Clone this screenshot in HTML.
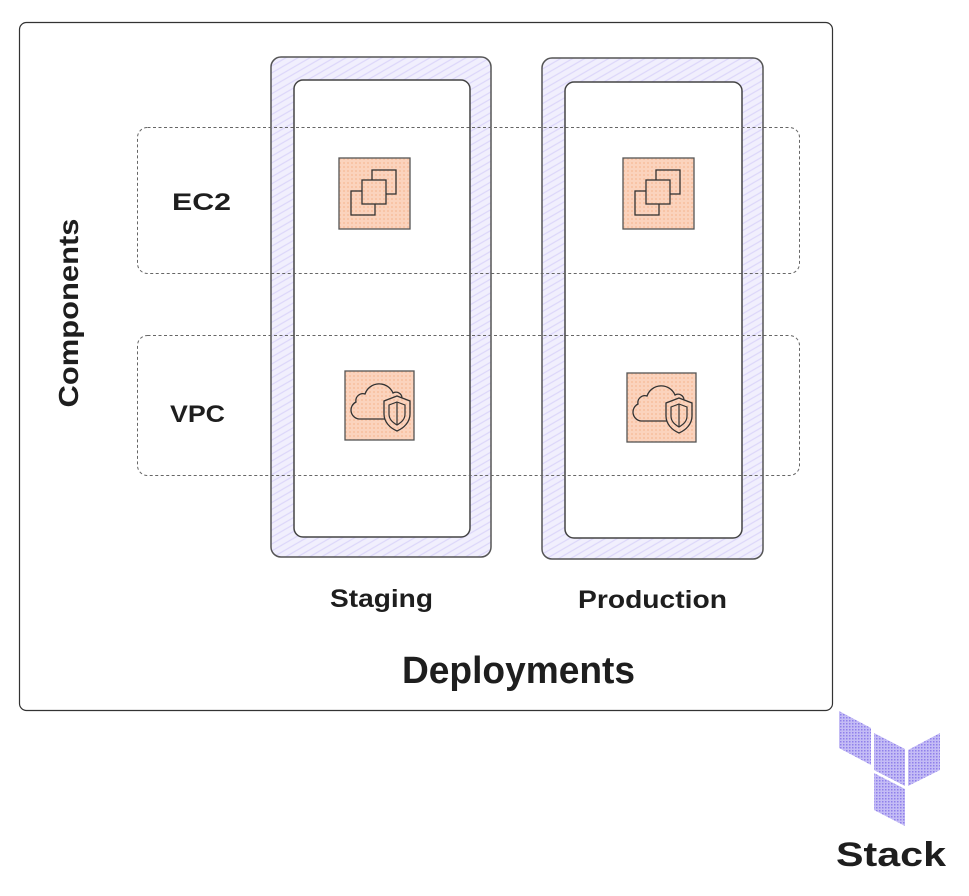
<!DOCTYPE html>
<html><head><meta charset="utf-8"><style>
html,body{margin:0;padding:0;background:#fff;}
svg{display:block;}
text{font-family:"Comic Sans MS","Liberation Sans",sans-serif;fill:#1e1e1e;font-weight:bold;}
</style></head><body>
<svg width="969" height="896" viewBox="0 0 969 896" xmlns="http://www.w3.org/2000/svg">
<defs>
<pattern id="hatch" width="6" height="6" patternUnits="userSpaceOnUse" patternTransform="rotate(-30)">
<rect width="6" height="6" fill="#f1effd"/>
<line x1="0" y1="1" x2="6" y2="1" stroke="#dcd6fa" stroke-width="1.2"/>
</pattern>
<pattern id="orange" width="4" height="4" patternUnits="userSpaceOnUse">
<rect width="4" height="4" fill="#fbd3bd"/>
<rect width="2" height="2" fill="#f8c4a6"/>
</pattern>
<pattern id="tf" width="3" height="3" patternUnits="userSpaceOnUse">
<rect width="3" height="3" fill="#c4bcf5"/>
<rect width="1.5" height="1.5" fill="#8f80ea"/>
</pattern>
<g id="ec2">
<rect x="0" y="0" width="71" height="71" fill="url(#orange)" stroke="#555" stroke-width="1.3"/>
<rect x="33" y="12" width="24" height="24" fill="none" stroke="#333" stroke-width="1.3"/>
<rect x="12" y="33" width="24" height="24" fill="none" stroke="#333" stroke-width="1.3"/>
<rect x="23" y="22" width="24" height="24" fill="url(#orange)" stroke="#333" stroke-width="1.3"/>
</g>
<g id="vpc">
<rect x="0" y="0" width="69" height="69" fill="url(#orange)" stroke="#555" stroke-width="1.3"/>
<path d="M40 48 H14 a9 9 0 0 1 -3 -17 a7 7 0 0 1 9 -8 a15 15 0 0 1 28 -1 a6 6 0 0 1 9 5" fill="none" stroke="#333" stroke-width="1.3"/>
<path d="M52 25 l13 5 v13 c0 8 -6 14 -13 17 c-7 -3 -13 -9 -13 -17 v-13 z" fill="url(#orange)" stroke="#333" stroke-width="1.3"/>
<path d="M52 31 l8 3 v9 c0 5 -3 8 -8 11 c-5 -3 -8 -6 -8 -11 v-9 z" fill="none" stroke="#333" stroke-width="1.2"/>
<line x1="52" y1="31" x2="52" y2="54" stroke="#333" stroke-width="1.2"/>
</g>
</defs>

<rect x="19.5" y="22.5" width="813" height="688" rx="7" fill="#fff" stroke="#333" stroke-width="1.2"/>

<rect x="271" y="57" width="220" height="500" rx="10" fill="url(#hatch)" stroke="#555" stroke-width="1.5"/>
<rect x="294" y="80" width="176" height="457" rx="9" fill="#fff" stroke="#444" stroke-width="1.5"/>
<rect x="542" y="58" width="221" height="501" rx="10" fill="url(#hatch)" stroke="#555" stroke-width="1.5"/>
<rect x="565" y="82" width="177" height="456" rx="9" fill="#fff" stroke="#444" stroke-width="1.5"/>

<rect x="137.5" y="127.5" width="662" height="146" rx="10" fill="none" stroke="#666" stroke-width="1" stroke-dasharray="3 2.5"/>
<rect x="137.5" y="335.5" width="662" height="140" rx="10" fill="none" stroke="#666" stroke-width="1" stroke-dasharray="3 2.5"/>

<use href="#ec2" x="339" y="158"/>
<use href="#ec2" x="623" y="158"/>
<use href="#vpc" x="345" y="371"/>
<use href="#vpc" x="627" y="373"/>

<text x="172" y="210" font-size="24" textLength="59" lengthAdjust="spacingAndGlyphs">EC2</text>
<text x="170" y="422" font-size="24" textLength="55" lengthAdjust="spacingAndGlyphs">VPC</text>
<text transform="translate(78,313) rotate(-90)" text-anchor="middle" font-size="28" textLength="189" lengthAdjust="spacingAndGlyphs">Components</text>
<text x="330" y="607" font-size="25" textLength="103" lengthAdjust="spacingAndGlyphs">Staging</text>
<text x="578" y="608" font-size="25" textLength="149" lengthAdjust="spacingAndGlyphs">Production</text>
<text x="402" y="683" font-size="38" textLength="233" lengthAdjust="spacingAndGlyphs">Deployments</text>

<polygon points="839,711 871,728 871,765 839,748" fill="url(#tf)"/>
<polygon points="874,733 905,749 905,786 874,770" fill="url(#tf)"/>
<polygon points="908,750 940,733 940,770 908,786" fill="url(#tf)"/>
<polygon points="874,773 905,789 905,826 874,810" fill="url(#tf)"/>
<text x="836" y="866" font-size="34" textLength="110" lengthAdjust="spacingAndGlyphs">Stack</text>
</svg>
</body></html>
